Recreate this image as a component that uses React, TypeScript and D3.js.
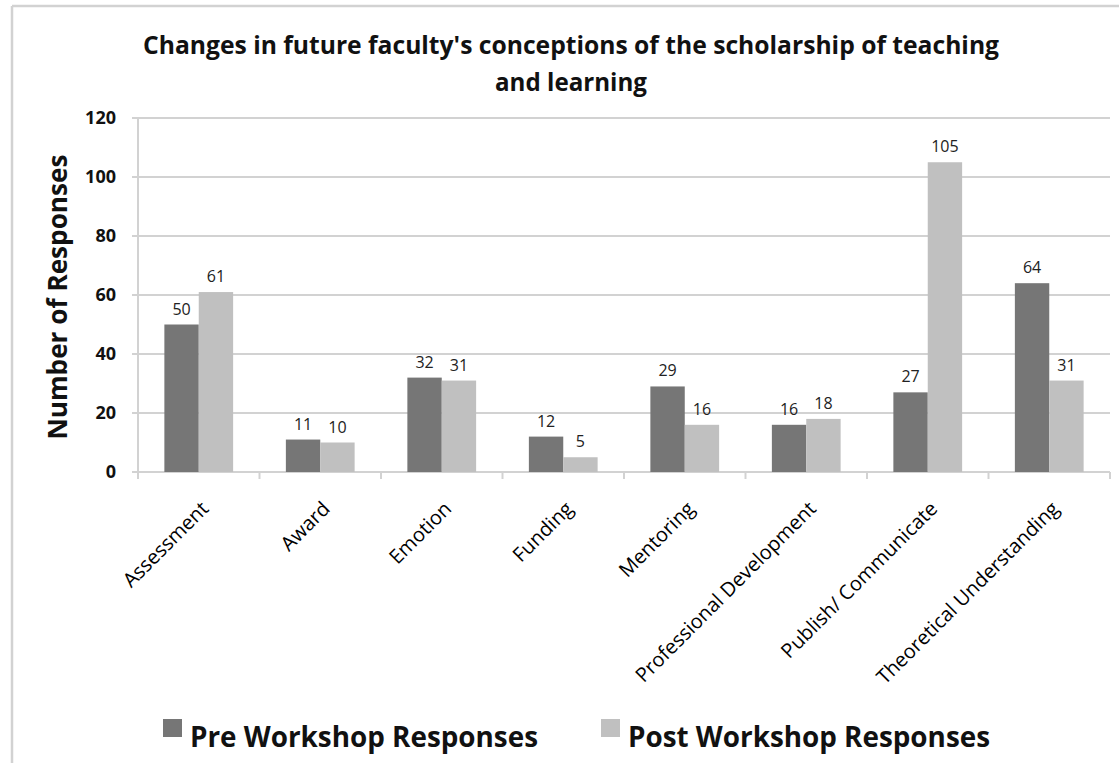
import React from "react";
import * as d3 from "d3";

const WIDTH = 1119;
const HEIGHT = 763;
const MARGIN = { top: 118, right: 9, bottom: 291, left: 138 };

const categories = [
  "Assessment",
  "Award",
  "Emotion",
  "Funding",
  "Mentoring",
  "Professional Development",
  "Publish/ Communicate",
  "Theoretical Understanding",
];
const preValues = [50, 11, 32, 12, 29, 16, 27, 64];
const postValues = [61, 10, 31, 5, 16, 18, 105, 31];
const seriesNames = ["Pre Workshop Responses", "Post Workshop Responses"];
const seriesColors = ["#767676", "#c0c0c0"];
const yTicks = [0, 20, 40, 60, 80, 100, 120];
const titleLines = [
  "Changes in future faculty's conceptions of the scholarship of teaching",
  "and learning",
];

const FONT = "'Open Sans', 'DejaVu Sans', sans-serif";
const GRID = "#d2d2d2";

export default function App() {
  const boundsWidth = WIDTH - MARGIN.left - MARGIN.right;
  const boundsHeight = HEIGHT - MARGIN.top - MARGIN.bottom;

  const yScale = d3.scaleLinear().domain([0, 120]).range([boundsHeight, 0]);

  // categories
  const xScale = d3
    .scaleBand()
    .domain(categories)
    .range([0, boundsWidth])
    .paddingInner(0.434)
    .paddingOuter(0.217);

  // pre / post inside each category
  const xSub = d3
    .scaleBand()
    .domain(seriesNames)
    .range([0, xScale.bandwidth()]);

  const step = xScale.step();
  const series = [preValues, postValues];

  return (
    <svg
      width={WIDTH}
      height={HEIGHT}
      style={{ position: "absolute", left: 0, top: 0, background: "#fff" }}
      fontFamily={FONT}
    >
      {/* outer frame */}
      <line x1={12} x2={WIDTH} y1={6} y2={6} stroke={GRID} strokeWidth={2.5} />
      <line x1={12} x2={12} y1={6} y2={HEIGHT} stroke={GRID} strokeWidth={2.5} />

      {/* title */}
      <text
        x={571}
        y={54}
        textAnchor="middle"
        fontSize={25}
        fontWeight="bold"
        fill="#111"
        textLength={856}
        lengthAdjust="spacingAndGlyphs"
      >
        {titleLines[0]}
      </text>
      <text
        x={571}
        y={91}
        textAnchor="middle"
        fontSize={25}
        fontWeight="bold"
        fill="#111"
        textLength={152}
        lengthAdjust="spacingAndGlyphs"
      >
        {titleLines[1]}
      </text>

      {/* y axis title */}
      <text
        transform={`translate(67,297) rotate(-90)`}
        textAnchor="middle"
        fontSize={26}
        fontWeight="bold"
        fill="#111"
        textLength={285}
        lengthAdjust="spacingAndGlyphs"
      >
        Number of Responses
      </text>

      <g transform={`translate(${MARGIN.left},${MARGIN.top})`}>
        {/* gridlines + y ticks */}
        {yTicks.map((t) => (
          <g key={t}>
            <line
              x1={-6}
              x2={boundsWidth}
              y1={yScale(t)}
              y2={yScale(t)}
              stroke={GRID}
              strokeWidth={2}
            />
            <text
              x={-22}
              y={yScale(t)}
              dy="0.35em"
              textAnchor="end"
              fontSize={18}
              fontWeight="bold"
              fill="#111"
            >
              {t}
            </text>
          </g>
        ))}

        {/* y axis line */}
        <line x1={0} x2={0} y1={0} y2={boundsHeight + 7} stroke={GRID} strokeWidth={2} />

        {/* x tick marks at category boundaries */}
        {categories.map((c, i) => (
          <line
            key={c}
            x1={(i + 1) * step}
            x2={(i + 1) * step}
            y1={boundsHeight}
            y2={boundsHeight + 7}
            stroke={GRID}
            strokeWidth={2}
          />
        ))}

        {/* bars */}
        {categories.map((c, i) => (
          <g key={c} transform={`translate(${xScale(c)},0)`}>
            {series.map((vals, s) => (
              <g key={s}>
                <rect
                  x={xSub(seriesNames[s])}
                  y={yScale(vals[i])}
                  width={xSub.bandwidth()}
                  height={boundsHeight - yScale(vals[i])}
                  fill={seriesColors[s]}
                />
                <text
                  x={(xSub(seriesNames[s]) || 0) + xSub.bandwidth() / 2}
                  y={yScale(vals[i]) - 10}
                  textAnchor="middle"
                  fontSize={16}
                  fill="#222"
                >
                  {vals[i]}
                </text>
              </g>
            ))}
          </g>
        ))}

        {/* rotated category labels */}
        {categories.map((c) => {
          const cx = (xScale(c) || 0) + xScale.bandwidth() / 2;
          return (
            <text
              key={c}
              transform={`translate(${cx + 11},${boundsHeight + 38}) rotate(-45)`}
              textAnchor="end"
              fontSize={20}
              fontWeight={500}
              fill="#000"
            >
              {c}
            </text>
          );
        })}
      </g>

      {/* legend */}
      <rect x={163} y={719} width={19} height={18} fill={seriesColors[0]} />
      <text
        x={190}
        y={747}
        fontSize={28}
        fontWeight="bold"
        fill="#111"
        textLength={348}
        lengthAdjust="spacingAndGlyphs"
      >
        {seriesNames[0]}
      </text>
      <rect x={601} y={719} width={19} height={18} fill={seriesColors[1]} />
      <text
        x={628}
        y={747}
        fontSize={28}
        fontWeight="bold"
        fill="#111"
        textLength={362}
        lengthAdjust="spacingAndGlyphs"
      >
        {seriesNames[1]}
      </text>
    </svg>
  );
}
